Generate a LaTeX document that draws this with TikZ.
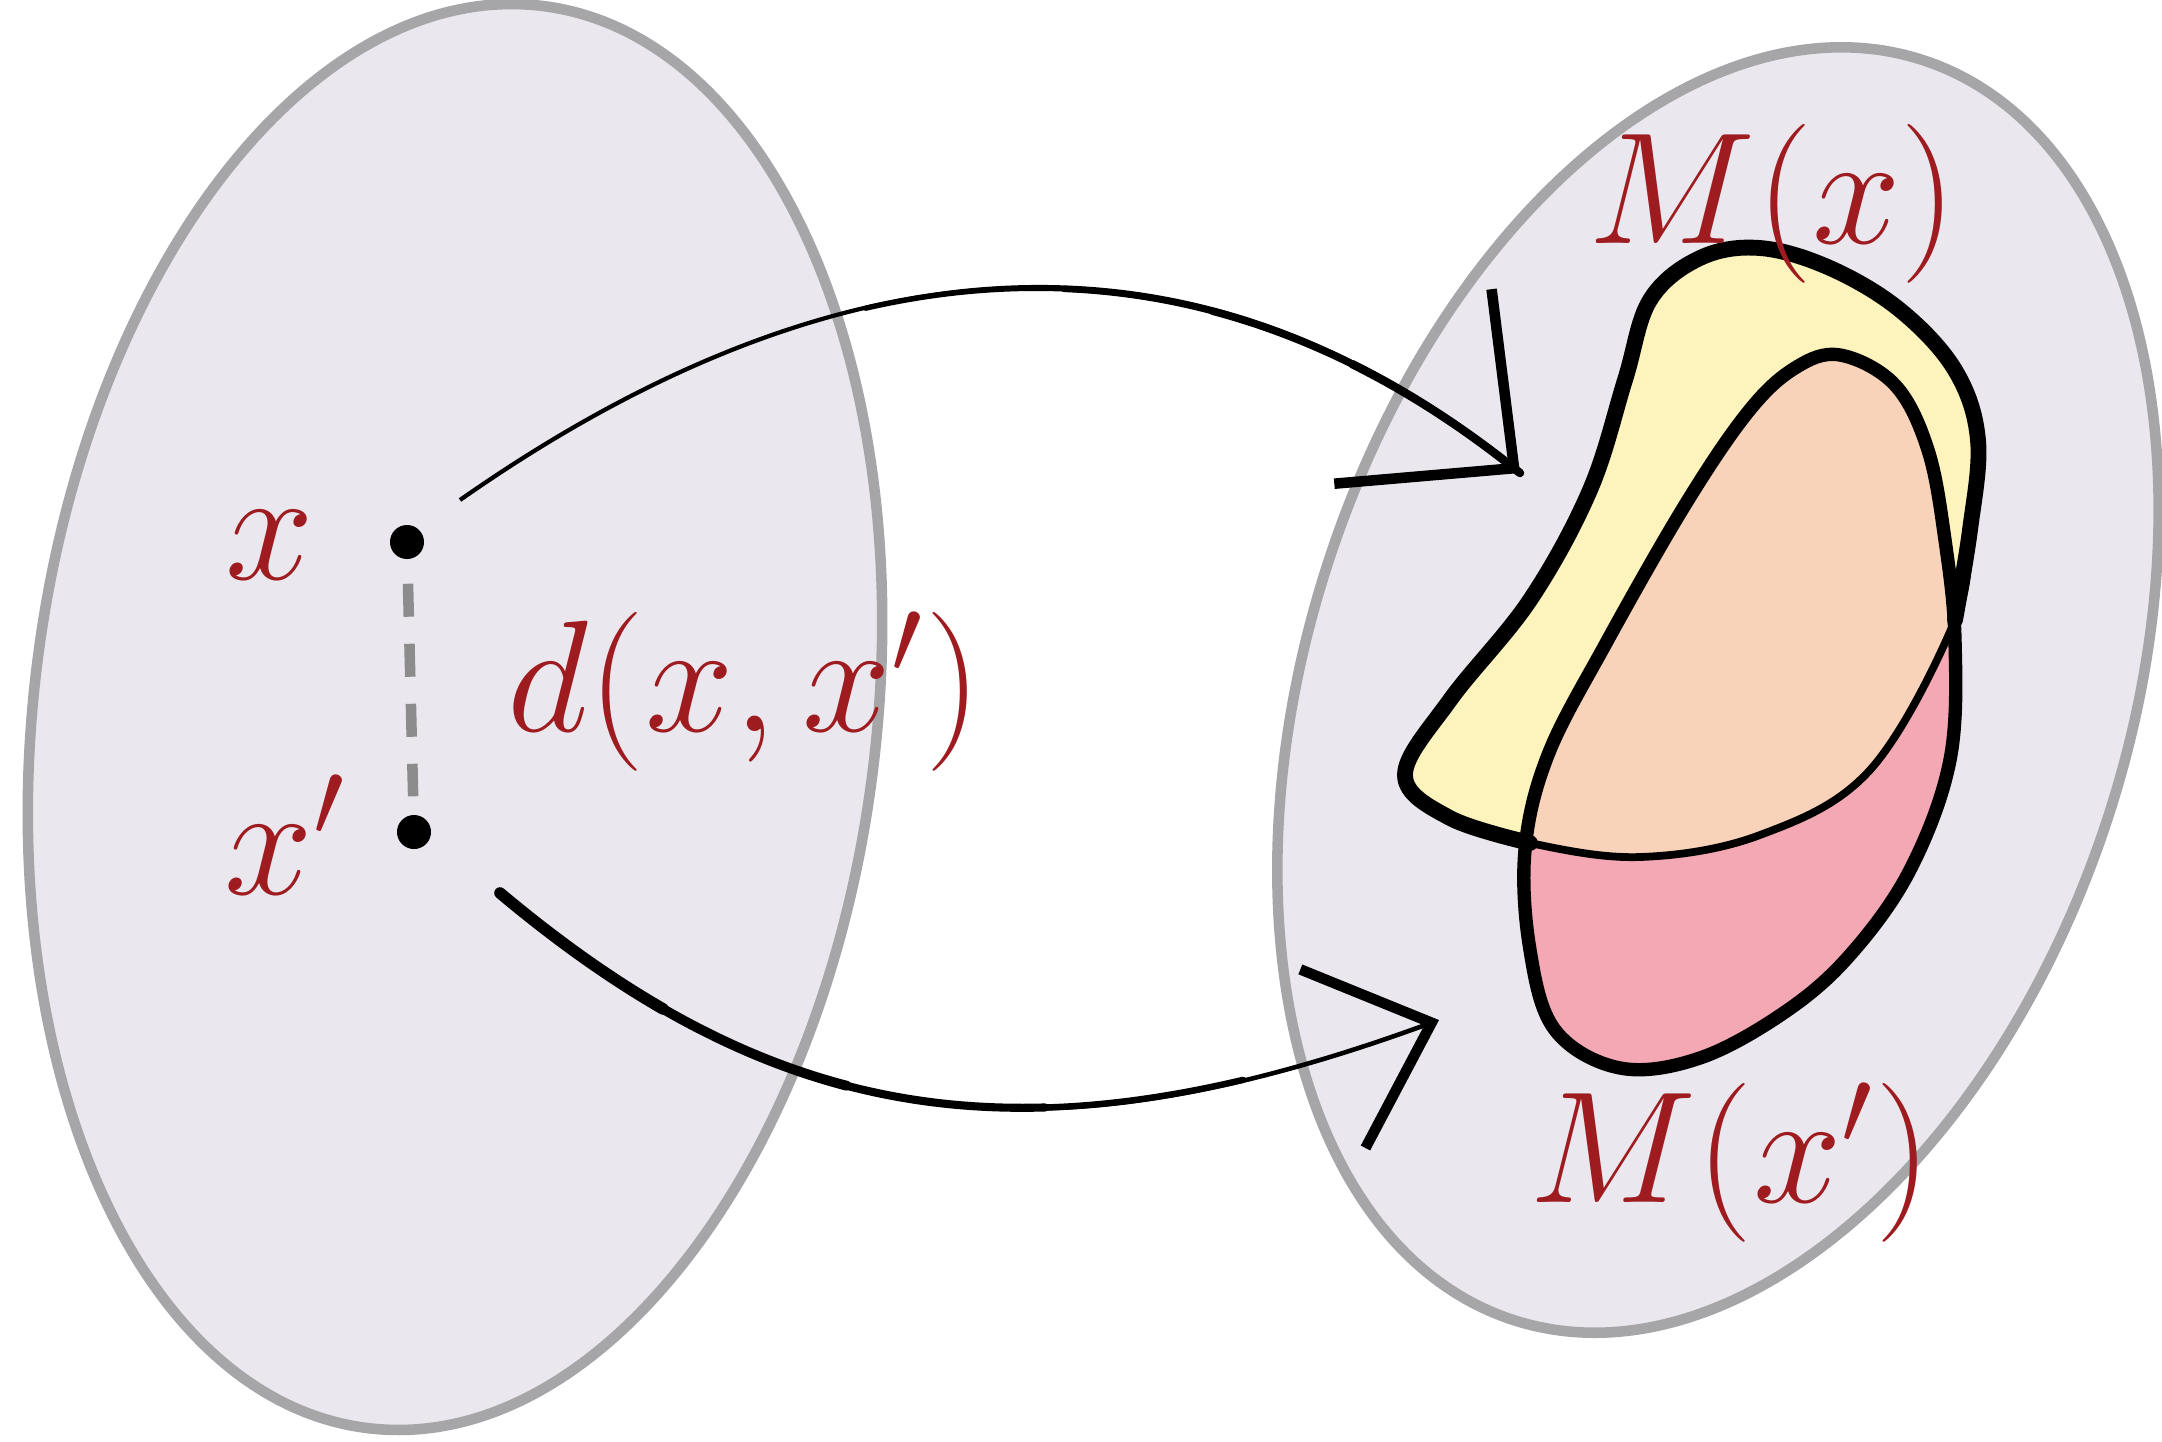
\documentclass[tikz,border=0pt]{standalone}
\usepackage{amsmath}
\usepackage{xcolor}
\usetikzlibrary{arrows.meta}
\definecolor{setfill}{RGB}{234,232,238}
\definecolor{setline}{RGB}{166,165,168}
\definecolor{mxfill}{RGB}{253,243,188}
\definecolor{mxpfill}{RGB}{244,168,179}
\definecolor{bothfill}{RGB}{249,211,185}
\definecolor{lblred}{RGB}{158,27,31}
\definecolor{distgray}{RGB}{140,140,140}
\tikzset{
  setblob/.style={fill=setfill, draw=setline, line width=3pt},
  dotpt/.style={circle, fill=black, inner sep=0pt, minimum size=3.4mm},
  lbl/.style={text=lblred, font=\fontsize{20.74}{25}\selectfont, scale=2.18, inner sep=0pt, anchor=base},
  rim/.style={draw=black, line width=4.5pt, line join=round, line cap=round},
  seam/.style={draw=black, line width=2.2pt},
  mapx/.style={-{Straight Barb[length=13mm, width=25mm, line width=3pt]}, line width=1.2pt},
  mapxp/.style={-{Straight Barb[length=10.5mm, width=19mm, line width=3pt]}, line width=1.3pt},
  taper/.style 2 args={line width=#1, line cap=round, dash pattern=on #2 off 30cm},
  dgap/.style={draw=distgray, line width=3pt, dash pattern=on 3.3mm off 2.7mm},
}

\begin{document}
\begin{tikzpicture}[x=0.01cm, y=-0.01cm]
\useasboundingbox (0,0) rectangle (2162,1441);
% input space and output space
\path[setblob, rotate around={-7:(455,717)}] (455,717) ellipse [x radius=4.21cm, y radius=7.16cm];
\path[setblob, rotate around={-18:(1718,690)}] (1718,690) ellipse [x radius=4.1cm, y radius=6.62cm];

% the two inputs
\node[dotpt] (x) at (407,542) {};
\node[dotpt] (xp) at (414,832) {};
\draw[dgap, shorten <=2.4mm, shorten >=1.8mm] (x) -- (xp);

% output distributions
\path[save path=\mxp] plot[smooth cycle, tension=0.6] coordinates {(1840,355) (1895,385) (1928,450) (1945,540) (1955,640) (1950,760) (1910,870) (1850,955) (1785,1012) (1700,1058) (1620,1068) (1555,1030) (1530,950) (1525,850) (1548,755) (1605,645) (1685,505) (1748,412) (1795,368)};
\path[save path=\mx] plot[smooth cycle, tension=0.6] coordinates {(1405,775) (1450,700) (1530,600) (1590,490) (1625,380) (1650,300) (1700,258) (1760,248) (1830,268) (1900,310) (1955,370) (1978,440) (1970,530) (1955,620) (1870,770) (1760,835) (1640,857) (1530,843) (1450,818)};
\fill[mxpfill, use path=\mxp];
\fill[mxfill, use path=\mx];
\begin{scope}
  \clip[use path=\mxp];
  \fill[bothfill, use path=\mx];
\end{scope}
\path[seam, use path=\mx];
\path[rim, line width=3.8pt, use path=\mxp];
\draw[rim] plot[smooth, tension=0.6] coordinates {(1530,843) (1450,818) (1405,775) (1450,700) (1530,600) (1590,490) (1625,380) (1650,300) (1700,258) (1760,248) (1830,268) (1900,310) (1955,370) (1978,440) (1970,530) (1955,620)};

% the mechanism
\coordinate (xs) at (460,500);
\coordinate (mxin) at (1520,473);
\coordinate (xps) at (500,893);
\coordinate (mxpin) at (1439,1020);
\draw[mapx] (xs) .. controls (804,259) and (1170,190) .. (mxin);
\foreach \w/\l in {1.5pt/7cm, 1.8pt/5cm, 2.1pt/3.5cm, 2.4pt/2cm}
  \draw[taper={\w}{\l}] (mxin) .. controls (1170,190) and (804,259) .. (xs);
\draw[mapxp] (xps) .. controls (791,1137) and (1044,1164) .. (mxpin);
\foreach \w/\l in {1.8pt/8cm, 2.3pt/6cm, 2.8pt/4cm, 3.3pt/2cm}
  \draw[taper={\w}{\l}] (xps) .. controls (791,1137) and (1044,1164) .. (mxpin);

% labels
\node[lbl] (xl) at (270,579) {$x$};
\node[lbl] (xpl) at (286,894) {$x'$};
\node[lbl] (dl) at (745,731) {$d(x,x')$};
\node[lbl] (mxl) at (1773,243) {$M(x)$};
\node[lbl] (mxpl) at (1731,1202) {$M(x')$};
\end{tikzpicture}
\end{document}
